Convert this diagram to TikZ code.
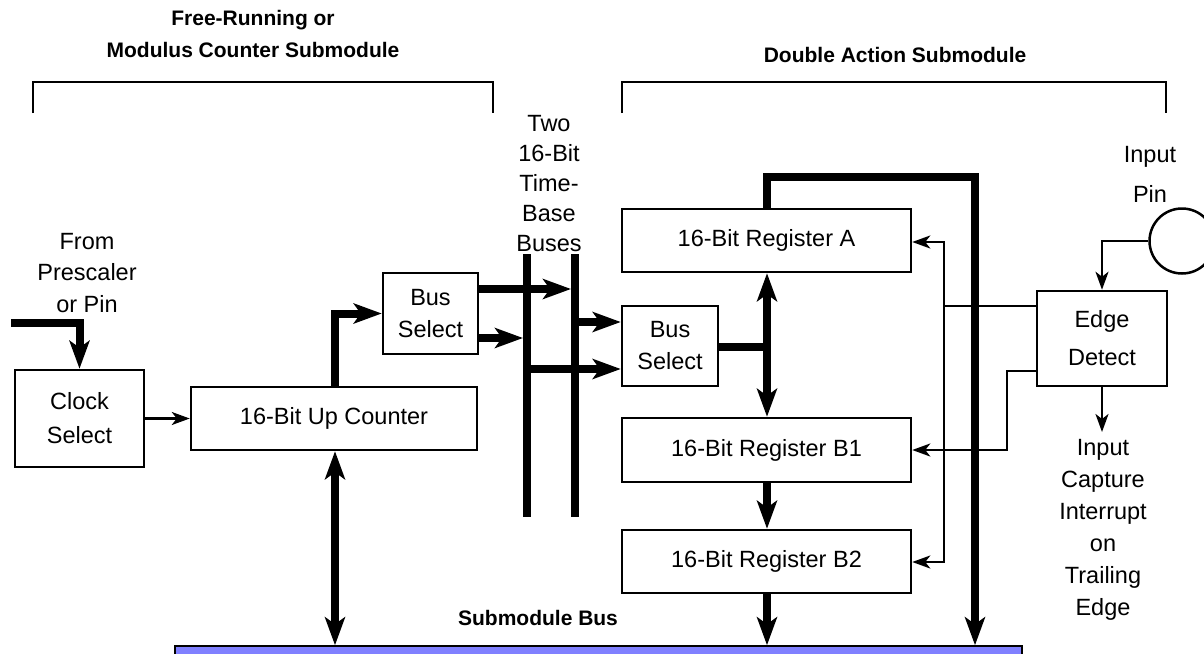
\documentclass[tikz,border=0pt]{standalone}
\usepackage{fontspec}
\setmainfont{Liberation Sans}
\usetikzlibrary{arrows.meta}
\definecolor{busblue}{HTML}{8080FF}
\tikzset{
 box/.style={draw, line width=2.5pt, inner sep=0pt, align=center, font=\fontsize{23.5}{32}\selectfont},
 lbl/.style={inner sep=0pt, align=center, font=\fontsize{23.5}{31.5}\selectfont},
 ttl/.style={inner sep=0pt, align=center, font=\fontsize{21}{32}\selectfont\bfseries},
 tline/.style={line width=2.5pt},
 tarrow/.style={line width=2.5pt, -{Stealth[length=18pt,width=13pt,inset=5pt]}},
 fline/.style={line width=8pt},
 farrow/.style={line width=8pt, -{Stealth[length=28pt,width=20pt,inset=7pt]}},
 fdouble/.style={line width=8pt, {Stealth[length=28pt,width=20pt,inset=7pt]}-{Stealth[length=28pt,width=20pt,inset=7pt]}},
 brk/.style={line width=1.5pt},
}
\begin{document}
\begin{tikzpicture}[x=1pt,y=-1pt]
\useasboundingbox (0,0) rectangle (1204,653);
% titles and brackets
\node[ttl] (t1) at (253,34) {Free-Running or\\Modulus Counter Submodule};
\node[ttl] (t2) at (895,55) {Double Action Submodule};
\draw[brk] (33,113) |- (493,82) -- (493,113);
\draw[brk] (622,113) |- (1166,82) -- (1166,113);
\node[lbl, font=\fontsize{23.5}{30}\selectfont] (tb) at (549,184) {Two\\16-Bit\\Time-\\Base\\Buses};
\node[lbl] (fp) at (87,273) {From\\Prescaler\\or Pin};
\node[lbl, font=\fontsize{23.5}{40}\selectfont] (ip) at (1150,174) {Input\\Pin};
% boxes
\node[box, minimum width=129pt, minimum height=97pt] (clk) at (79.5,418.5) {Clock\\[2pt]Select};
\node[box, minimum width=286pt, minimum height=63pt] (cnt) at (334,418.5) {16-Bit Up Counter};
\node[box, minimum width=95pt, minimum height=81pt] (bsL) at (430.5,313.5) {Bus\\Select};
\node[box, minimum width=96pt, minimum height=80pt] (bsR) at (670,346) {Bus\\Select};
\node[box, minimum width=289pt, minimum height=63pt] (regA) at (766.5,240.5) {16-Bit Register A};
\node[box, minimum width=289pt, minimum height=64pt] (regB1) at (766.5,450) {16-Bit Register B1};
\node[box, minimum width=289pt, minimum height=63pt] (regB2) at (766.5,561.5) {16-Bit Register B2};
\node[box, minimum width=130pt, minimum height=95pt] (edge) at (1102,338.5) {Edge\\[6pt]Detect};
\node[draw, circle, line width=2.5pt, minimum size=65pt, inner sep=0pt] (pin) at (1182,241) {};
\node[draw, fill=busblue, line width=1.5pt, minimum width=847pt, minimum height=30pt, inner sep=0pt] (sbus) at (598.5,661) {};
\node[ttl] (sb) at (538,618) {Submodule Bus};
\node[lbl, font=\fontsize{23.5}{32}\selectfont] (ic) at (1103,530) {Input\\Capture\\Interrupt\\on\\Trailing\\Edge};
% coordinates
\coordinate (inS) at (11,323);
\coordinate (c1) at (335,0);
\coordinate (bLt) at (527,254); \coordinate (bLb) at (527,517);
\coordinate (bRt) at (575,254); \coordinate (bRb) at (575,517);
\coordinate (r1) at (571,289);
\coordinate (r0) at (523,338);
\coordinate (r2) at (579,322);
\coordinate (r3) at (531,369);
\coordinate (j1) at (767,347);
\coordinate (j2) at (771,347);
\coordinate (t1c) at (975,177);
\coordinate (v1) at (944,306);
\coordinate (v2) at (944,242);
\coordinate (v3) at (944,562);
\coordinate (w1) at (1007,371);
\coordinate (e1) at (1102,432);
% buses
\draw[fline] (bLt) -- (bLb);
\draw[fline] (bRt) -- (bRb);
% left side connectors
\draw[farrow] (inS) -| (clk.north);
\draw[tarrow] (clk.east) -- (cnt.west);
\draw[farrow] (cnt.north -| c1) |- (bsL.west);
\draw[fdouble] (cnt.south -| c1) -- (sbus.north -| c1);
\draw[farrow] (bsL.east |- r1) -- (r1);
\draw[farrow] (bsL.east |- r0) -- (r0);
\draw[farrow] (r2) -- (bsR.west |- r2);
\draw[farrow] (r3) -- (bsR.west |- r3);
% register column
\draw[fline] (bsR.east |- j2) -- (j2);
\draw[fdouble] (regA.south -| j1) -- (regB1.north -| j1);
\draw[farrow] (regB1.south -| j1) -- (regB2.north -| j1);
\draw[farrow] (regB2.south -| j1) -- (sbus.north -| j1);
% edge detect network
\draw[tarrow] (edge.west |- v1) -- (v1) -- (v2) -- (regA.east |- v2);
\draw[tarrow] (v1) -- (v3) -- (regB2.east |- v3);
\draw[tarrow] (edge.west |- w1) -- (w1) |- (regB1.east);
\draw[farrow] (regA.north -| j1) |- (t1c) -- (t1c |- sbus.north);
\draw[tarrow] (pin.west) -| (edge.north);
\draw[tarrow] (edge.south) -- (e1);
\end{tikzpicture}
\end{document}
